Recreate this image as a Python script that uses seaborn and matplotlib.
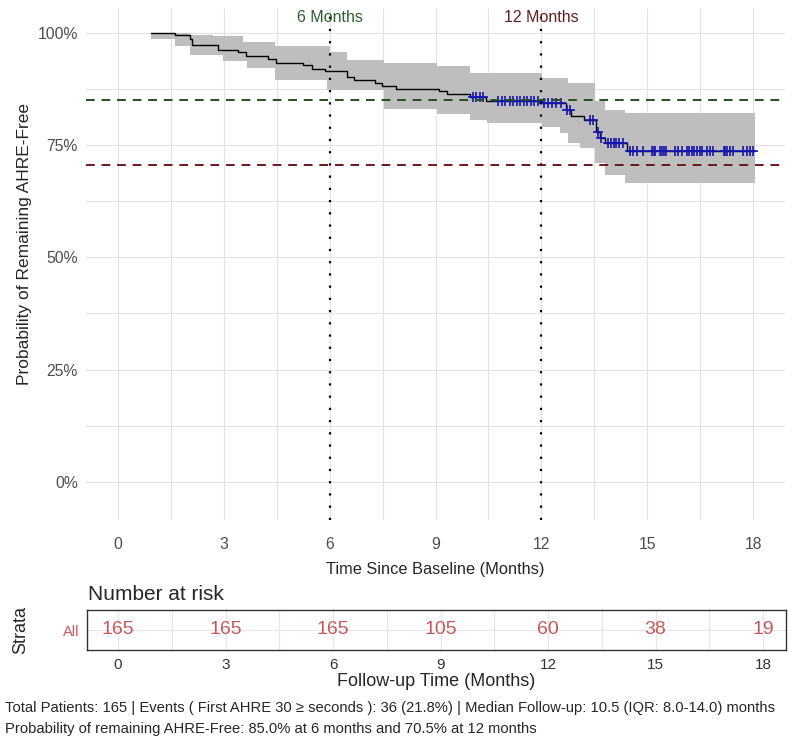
import numpy as np
import seaborn as sns
from matplotlib import pyplot as plt

# Kaplan-Meier estimate (months, probability)
surv_time = [0.95, 1.62, 2.04, 2.10, 2.83, 3.40, 3.63, 4.25, 4.48, 5.25, 5.50, 5.87,
             6.49, 6.69, 7.28, 7.48, 7.88, 9.10, 9.33, 9.98, 10.42, 12.02, 12.70,
             12.85, 13.20, 13.55, 13.65, 13.80, 14.43, 18.05]
surv_prob = [1.000, 0.994, 0.985, 0.973, 0.962, 0.957, 0.949, 0.942, 0.933, 0.927,
             0.919, 0.914, 0.901, 0.894, 0.888, 0.882, 0.875, 0.871, 0.864, 0.857,
             0.849, 0.844, 0.828, 0.815, 0.806, 0.780, 0.766, 0.754, 0.737, 0.737]

# confidence band
band_time = [0.94, 1.62, 2.04, 2.70, 2.98, 3.54, 3.66, 4.45, 5.92, 6.00, 6.49, 7.55,
             9.04, 9.98, 10.46, 12.02, 12.53, 12.75, 13.10, 13.52, 13.80, 14.37, 18.05]
band_upper = [1.000, 1.000, 0.995, 0.992, 0.992, 0.980, 0.980, 0.970, 0.970, 0.958,
              0.940, 0.933, 0.925, 0.911, 0.911, 0.900, 0.900, 0.888, 0.888, 0.847,
              0.828, 0.821, 0.821]
band_lower = [0.987, 0.970, 0.950, 0.950, 0.936, 0.936, 0.922, 0.895, 0.873, 0.873,
              0.873, 0.830, 0.818, 0.806, 0.800, 0.790, 0.776, 0.754, 0.743, 0.709,
              0.683, 0.666, 0.666]

# censored observations
censor_time = [10.05, 10.15, 10.25, 10.35, 10.78, 10.88, 10.98, 11.10, 11.20, 11.30,
               11.40, 11.50, 11.60, 11.70, 11.80, 11.90, 12.08, 12.20, 12.30, 12.42,
               12.55, 12.72, 12.80, 13.38, 13.46, 13.60, 13.70, 13.88, 13.97, 14.05,
               14.12, 14.20, 14.30, 14.50, 14.60, 14.70, 14.88, 15.13, 15.18, 15.22,
               15.36, 15.41, 15.46, 15.53, 15.79, 15.88, 15.98, 16.12, 16.19, 16.26,
               16.31, 16.40, 16.50, 16.54, 16.69, 16.78, 16.87, 17.16, 17.20, 17.27,
               17.35, 17.44, 17.72, 17.82, 17.91, 18.00]

ref_months = [6, 12]
ref_month_labels = ['6 Months', '12 Months']
ref_prob = [0.85, 0.705]
ref_colors = ['#24501f', '#6a1818']
ref_text_colors = ['#2f5f2f', '#5e2020']

y_ticks = [0, 0.25, 0.5, 0.75, 1.0]
y_tick_labels = ['0%', '25%', '50%', '75%', '100%']
x_ticks = [0, 3, 6, 9, 12, 15, 18]

risk_time = [0, 3, 6, 9, 12, 15, 18]
risk_n = [165, 165, 165, 105, 60, 38, 19]

footer_1 = ('Total Patients: 165 | Events ( First AHRE 30 \u2265 seconds ): 36 (21.8%) | '
            'Median Follow-up: 10.5 (IQR: 8.0-14.0) months')
footer_2 = 'Probability of remaining AHRE-Free: 85.0% at 6 months and 70.5% at 12 months'

sns.set_theme(style='white')
plt.rcParams['font.family'] = ['Liberation Sans', 'DejaVu Sans']

W, H = 794, 736
fig = plt.figure(figsize=(W / 100, H / 100), dpi=100)
fig.patch.set_facecolor('white')

# main survival panel
ax = fig.add_axes([86 / W, 1 - 520 / H, (785 - 86) / W, (520 - 8) / H])
ax.fill_between(band_time, band_lower, band_upper, step='post', color='#bebebe', lw=0, zorder=2)
sns.lineplot(x=surv_time, y=surv_prob, drawstyle='steps-post', color='black', lw=1.0,
             ax=ax, zorder=3)
idx = np.searchsorted(surv_time, censor_time, side='right') - 1
censor_prob = np.array(surv_prob)[idx]
sns.scatterplot(x=censor_time, y=censor_prob, marker='+', color='#1616b0', s=60,
                linewidth=1.2, ax=ax, zorder=4)

for m, lab, c in zip(ref_months, ref_month_labels, ref_text_colors):
    ax.axvline(m, color='black', ls=(0, (1, 4.5)), lw=1.6, zorder=5)
    ax.text(m, 1.033, lab, ha='center', va='center', color=c, fontsize=11.5, zorder=6)
for p, c in zip(ref_prob, ref_colors):
    ax.axhline(p, color=c, ls=(0, (4.5, 3.5)), lw=1.4, zorder=5)

ax.set_xlim(-0.9, 18.9)
ax.set_ylim(-0.085, 1.055)
ax.set_xticks(x_ticks)
ax.set_xticks(np.arange(1.5, 18, 3), minor=True)
ax.set_yticks(y_ticks)
ax.set_yticklabels(y_tick_labels)
ax.set_yticks([0.125, 0.375, 0.625, 0.875], minor=True)
ax.grid(which='both', color='#e2e2e2', lw=0.8, zorder=0)
ax.set_axisbelow(True)
for s in ax.spines.values():
    s.set_visible(False)
ax.tick_params(which='both', length=0, labelsize=11.3, labelcolor='#4d4d4d')
ax.tick_params(axis='x', pad=12)
ax.tick_params(axis='y', pad=6)
ax.set_xlabel('Time Since Baseline (Months)', fontsize=11.8)
ax.xaxis.set_label_coords(0.5, -0.083)
ax.set_ylabel('Probability of Remaining AHRE-Free', fontsize=12.5)
ax.yaxis.set_label_coords(-0.077, 0.54)

# number at risk table
fig.text(88 / W, 1 - 594 / H, 'Number at risk', fontsize=15, va='center', ha='left')
ax2 = fig.add_axes([87 / W, 1 - 650 / H, (786 - 87) / W, (650 - 610) / H])
ax2.set_xlim(-0.865, 18.64)
ax2.set_ylim(0.5, 1.5)
for t, n in zip(risk_time, risk_n):
    ax2.text(t, 1, str(n), ha='center', va='center', color='#c4595c', fontsize=14)
ax2.set_xticks(x_ticks)
ax2.set_xticks(np.arange(1.5, 18, 3), minor=True)
ax2.set_yticks([1])
ax2.set_yticklabels(['All'])
ax2.grid(which='both', color='#e6e6e6', lw=0.8)
ax2.set_axisbelow(True)
for s in ax2.spines.values():
    s.set_color('#333333')
    s.set_linewidth(1.0)
ax2.tick_params(axis='both', which='major', length=3.5, width=0.8, color='#333333',
                labelsize=11, labelcolor='#333333', pad=2)
ax2.tick_params(which='minor', length=0)
ax2.tick_params(axis='y', labelcolor='#c4595c', labelsize=10.5)
ax2.set_xlabel('Follow-up Time (Months)', fontsize=13, labelpad=1)
ax2.set_ylabel('Strata', fontsize=13)
ax2.yaxis.set_label_coords(-0.082, 0.5)

# footer notes
fig.text(5 / W, 1 - 708 / H, footer_1, fontsize=10.6, va='center', ha='left')
fig.text(5 / W, 1 - 729 / H, footer_2, fontsize=10.6, va='center', ha='left')

fig.savefig('out.png', dpi=100)
